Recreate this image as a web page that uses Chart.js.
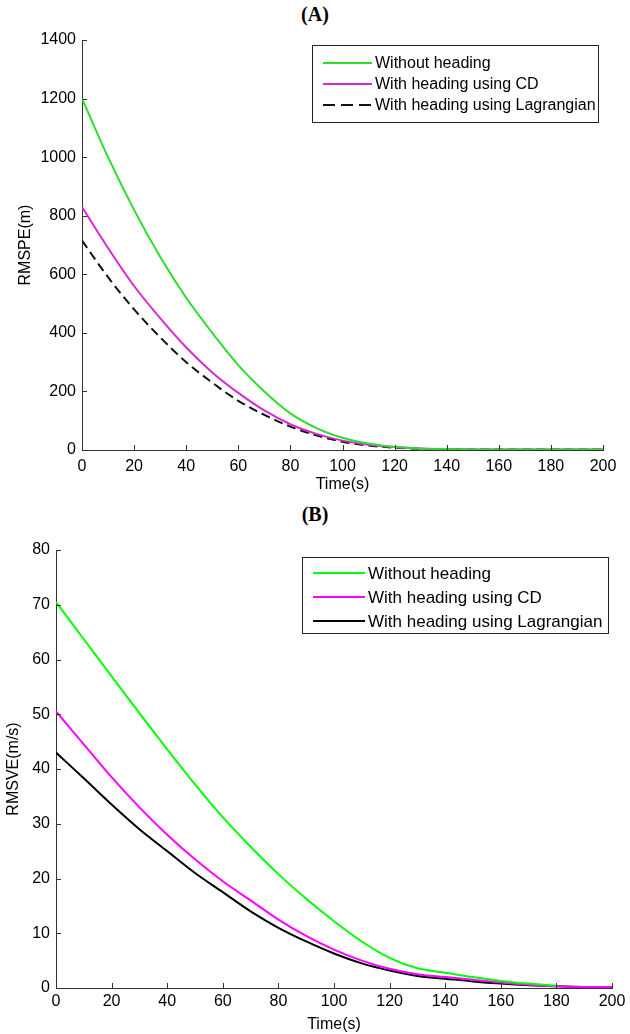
<!DOCTYPE html>
<html>
<head>
<meta charset="utf-8">
<script src="https://cdn.jsdelivr.net/npm/chart.js@4.4.1/dist/chart.umd.min.js"></script>
<style>
  html, body { margin: 0; padding: 0; background: #fff; }
  #wrap { position: relative; width: 630px; height: 1034px; overflow: hidden; }
  .ttl { position: absolute; left: 0; width: 630px; text-align: center; font: bold 20px 'Liberation Serif', 'Times New Roman', serif; color: #000; }
  canvas { position: absolute; left: 0; }
</style>
</head>
<body>
<div id="wrap">
  <div class="ttl" style="top:3px">(A)</div>
  <div class="ttl" style="top:503px">(B)</div>
  <canvas id="chartA" style="top:0" width="630" height="500"></canvas>
  <canvas id="chartB" style="top:500px" width="630" height="534"></canvas>
</div>
<script>
// ---- data ----
const timesA = [0, 10, 20, 30, 40, 50, 60, 70, 80, 90, 100, 110, 120, 130, 140, 150, 160, 170, 180, 190, 200]
const withoutHeadingA = [1200, 1000, 820, 660, 520, 400, 290, 200, 125, 75, 42, 22, 10, 5, 3, 2, 2, 2, 2, 2, 2]
const headingCdA = [830, 690, 560, 450, 350, 265, 195, 135, 88, 55, 32, 18, 10, 5, 3, 2, 2, 2, 2, 2, 2]
const headingLagA = [715, 590, 480, 385, 300, 230, 168, 120, 80, 50, 28, 15, 8, 4, 3, 2, 2, 2, 2, 2, 2]

const timesB = [0, 10, 20, 30, 40, 50, 60, 70, 80, 90, 100, 110, 120, 130, 140, 150, 160, 170, 180, 190, 200]
const withoutHeadingB = [70.5, 63.7, 56.9, 50.2, 43.6, 37.2, 31.2, 25.8, 20.8, 16.3, 12.2, 8.5, 5.5, 3.6, 2.8, 2.0, 1.3, 0.8, 0.4, null, null]
const headingCdB = [50.5, 44.5, 38.5, 33, 28, 23.5, 19.5, 16, 12.5, 9.5, 7, 5, 3.5, 2.5, 2, 1.5, 1, 0.6, 0.3, 0.2, 0.2]
const headingLagB = [43, 38.3, 33.5, 29, 25, 21, 17.5, 14, 11, 8.5, 6.3, 4.5, 3.2, 2.2, 1.7, 1.2, 0.8, 0.5, 0.3, 0.2, 0.2]

const labels = ['Without heading', 'With heading using CD', 'With heading using Lagrangian']

const xTicks = [0, 20, 40, 60, 80, 100, 120, 140, 160, 180, 200]
const yTicksA = [0, 200, 400, 600, 800, 1000, 1200, 1400]
const yTicksB = [0, 10, 20, 30, 40, 50, 60, 70, 80]

const toXY = (xs, ys) => xs.map((x, i) => ({ x: x, y: ys[i] }))

// inward ticks + legend box, matlab style
const matlabBits = {
  id: 'matlabBits',
  afterDraw (chart, args, opts) {
    const { ctx, chartArea, scales } = chart
    ctx.save()
    ctx.strokeStyle = '#333'
    ctx.lineWidth = 1
    scales.x.ticks.forEach(t => {
      const px = Math.round(scales.x.getPixelForValue(t.value)) + 0.5
      ctx.beginPath()
      ctx.moveTo(px, chartArea.bottom)
      ctx.lineTo(px, chartArea.bottom - 5)
      ctx.stroke()
    })
    scales.y.ticks.forEach(t => {
      const py = Math.round(scales.y.getPixelForValue(t.value)) + 0.5
      ctx.beginPath()
      ctx.moveTo(chartArea.left, py)
      ctx.lineTo(chartArea.left + 5, py)
      ctx.stroke()
    })
    // legend
    const lg = opts.legend
    ctx.fillStyle = '#fff'
    ctx.fillRect(lg.x, lg.y, lg.w, lg.h)
    ctx.strokeStyle = '#222'
    ctx.strokeRect(lg.x + 0.5, lg.y + 0.5, lg.w, lg.h)
    ctx.font = lg.font
    ctx.textBaseline = 'middle'
    chart.data.datasets.forEach((ds, i) => {
      const y = lg.y + lg.first + i * lg.step
      ctx.strokeStyle = ds.borderColor
      ctx.lineWidth = 2
      ctx.setLineDash(ds.borderDash && ds.borderDash.length ? lg.dash : [])
      ctx.beginPath()
      ctx.moveTo(lg.x + lg.lineStart, y)
      ctx.lineTo(lg.x + lg.lineEnd, y)
      ctx.stroke()
      ctx.setLineDash([])
      ctx.fillStyle = '#000'
      ctx.fillText(ds.label, lg.x + lg.lineEnd + 3, y + 1)
    })
    ctx.restore()
  }
}

const makeOptions = (cfg) => ({
  responsive: false,
  animation: false,
  layout: { padding: cfg.padding },
  elements: { point: { radius: 0 }, line: { borderWidth: 2, cubicInterpolationMode: 'monotone' } },
  plugins: {
    legend: { display: false },
    tooltip: { enabled: false },
    matlabBits: { legend: cfg.legend }
  },
  scales: {
    x: {
      type: 'linear',
      min: 0,
      max: 200,
      afterBuildTicks: s => { s.ticks = xTicks.map(v => ({ value: v })) },
      afterFit: s => { s.height = cfg.xHeight },
      grid: { drawOnChartArea: false, drawTicks: false },
      border: { color: '#333', width: 1 },
      ticks: { color: '#000', font: cfg.tickFont, padding: cfg.xTickPad, maxRotation: 0, callback: v => String(v) },
      title: { display: true, text: 'Time(s)', color: '#000', font: cfg.tickFont, padding: { top: 0, bottom: cfg.xTitlePad } }
    },
    y: {
      min: 0,
      max: cfg.yMax,
      afterBuildTicks: s => { s.ticks = cfg.yTicks.map(v => ({ value: v })) },
      afterFit: s => { s.width = cfg.yWidth },
      grid: { drawOnChartArea: false, drawTicks: false },
      border: { color: '#333', width: 1 },
      ticks: { color: '#000', font: cfg.tickFont, padding: 6, callback: v => String(v) },
      title: { display: true, text: cfg.yTitle, color: '#000', font: cfg.tickFont, padding: { top: cfg.yTitlePad, bottom: 0 } }
    }
  }
})

new Chart(document.getElementById('chartA'), {
  type: 'line',
  data: {
    datasets: [
      { label: labels[0], data: toXY(timesA, withoutHeadingA), borderColor: '#2edc2e' },
      { label: labels[1], data: toXY(timesA, headingCdA), borderColor: '#d62ad6' },
      { label: labels[2], data: toXY(timesA, headingLagA), borderColor: '#111', borderDash: [9, 5] }
    ]
  },
  options: makeOptions({
    padding: { top: 40, right: 27, left: 0, bottom: 0 },
    xHeight: 50,
    yWidth: 82,
    yMax: 1400,
    yTicks: yTicksA,
    yTitle: 'RMSPE(m)',
    yTitlePad: 16,
    xTickPad: 7,
    xTitlePad: 6,
    tickFont: { family: "'Liberation Sans Narrow', 'Liberation Sans', Arial", size: 16 },
    legend: { x: 312, y: 45, w: 286, h: 77, first: 18, step: 21, lineStart: 11, lineEnd: 60, dash: [12, 6], font: "16px 'Liberation Sans Narrow', 'Liberation Sans', Arial" }
  }),
  plugins: [matlabBits]
})

new Chart(document.getElementById('chartB'), {
  type: 'line',
  data: {
    datasets: [
      { label: labels[0], data: toXY(timesB, withoutHeadingB), borderColor: '#00ff00' },
      { label: labels[1], data: toXY(timesB, headingCdB), borderColor: '#ff00ff' },
      { label: labels[2], data: toXY(timesB, headingLagB), borderColor: '#000' }
    ]
  },
  options: makeOptions({
    padding: { top: 50, right: 18, left: 0, bottom: 0 },
    xHeight: 46,
    yWidth: 56,
    yMax: 80,
    yTicks: yTicksB,
    yTitle: 'RMSVE(m/s)',
    yTitlePad: 4,
    xTickPad: 4,
    xTitlePad: 0,
    tickFont: { family: "'Liberation Sans', Arial", size: 16 },
    legend: { x: 302, y: 57, w: 306, h: 76, first: 16, step: 24, lineStart: 11, lineEnd: 63, dash: [], font: "17px 'Liberation Sans', Arial" }
  }),
  plugins: [matlabBits]
})
</script>
</body>
</html>
